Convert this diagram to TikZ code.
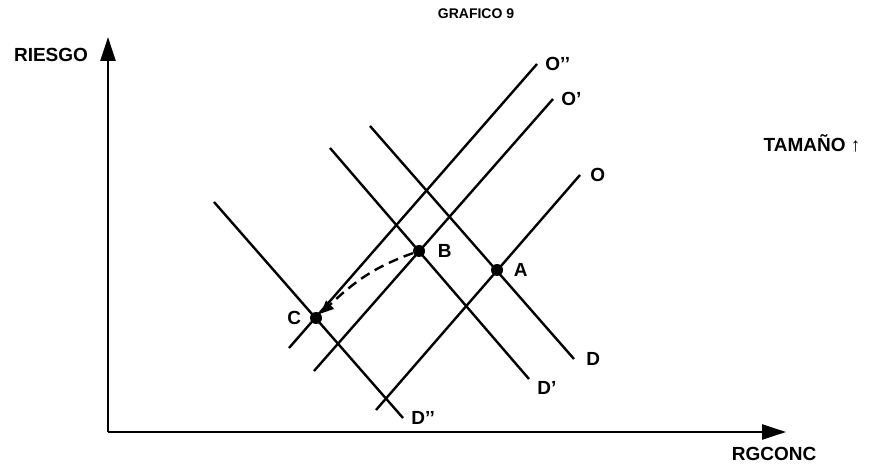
\documentclass[tikz,border=0pt]{standalone}
\usepackage{fontspec}
\setmainfont{Liberation Sans}
\usetikzlibrary{arrows.meta, positioning}

\begin{document}
\begin{tikzpicture}[x=0.5pt, y=-0.5pt,
    axis/.style={line width=1.3pt, -{Triangle[length=12pt, width=7.5pt]}},
    curve/.style={line width=1.2pt},
    eqpoint/.style={circle, fill=black, inner sep=0pt, minimum size=6pt},
    lbl/.style={font=\fontsize{9.5}{11}\selectfont\bfseries, inner sep=1pt},
    movepath/.style={dashed, dash pattern=on 5pt off 3pt, line width=1.2pt,
                  -{Triangle[length=6.5pt, width=5.5pt]}}
]
\useasboundingbox (0,0) rectangle (871,469);

% axes
\coordinate (origin) at (108,432);
\coordinate (ytop) at (108,37);
\coordinate (xend) at (786,432);
\draw[axis] (origin) -- (ytop);
\draw[axis] (origin) -- (xend);
\node[lbl] (riesgo) at (51,55) {RIESGO};
\node[lbl] (rgconc) at (774,454) {RGCONC};
\node[lbl, font=\fontsize{7}{8}\selectfont\bfseries] (title) at (476,14) {GRAFICO 9};
\node[lbl] (tamano) at (812,143) {TAMAÑO ↑};

% supply lines
\coordinate (os) at (376,410);  \coordinate (oe) at (580,175);
\coordinate (o1s) at (314,371); \coordinate (o1e) at (553,99);
\coordinate (o2s) at (289,348); \coordinate (o2e) at (537,64);
% demand lines
\coordinate (ds) at (370,126);  \coordinate (de) at (574,359);
\coordinate (d1s) at (330,148); \coordinate (d1e) at (529,379);
\coordinate (d2s) at (214,202); \coordinate (d2e) at (403,418);

\draw[curve] (os) -- (oe);
\draw[curve] (o1s) -- (o1e);
\draw[curve] (o2s) -- (o2e);
\draw[curve] (ds) -- (de);
\draw[curve] (d1s) -- (d1e);
\draw[curve] (d2s) -- (d2e);

\node[lbl, right=4pt of oe] (olbl) {O};
\node[lbl, right=3pt of o1e] (o1lbl) {O’};
\node[lbl, right=3pt of o2e] (o2lbl) {O’’};
\node[lbl, right=5pt of de] (dlbl) {D};
\node[lbl, below right=0pt and 3pt of d1e] (d1lbl) {D’};
\node[lbl, right=3pt of d2e] (d2lbl) {D’’};

% equilibria
\node[eqpoint] (A) at (497,270) {};
\node[eqpoint] (B) at (419,251) {};
\node[eqpoint] (C) at (316,318) {};
\node[lbl, right=4pt of A] (albl) {A};
\node[lbl, right=5pt of B] (blbl) {B};
\node[lbl, left=3pt of C] (clbl) {C};

\draw[movepath] (B) .. controls +(-45,16) and +(38,-36) .. (C);
\end{tikzpicture}
\end{document}
